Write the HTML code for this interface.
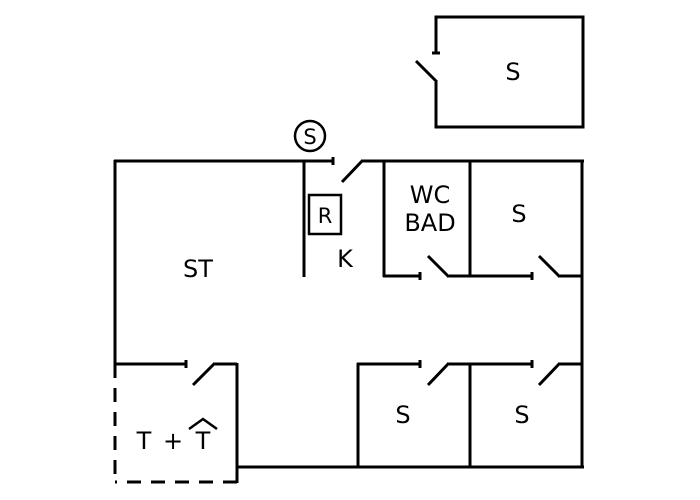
<!DOCTYPE html>
<html><head><style>body{margin:0;background:#fff}svg{display:block}text{font-family:"DejaVu Sans","Liberation Sans",sans-serif;fill:#000}</style></head><body>
<svg width="700" height="500" viewBox="0 0 700 500" xmlns="http://www.w3.org/2000/svg">
<g stroke="#000" stroke-width="3" fill="none" stroke-linecap="butt">
<polyline points="436,53 436,17 583,17 583,127 436,127 436,82"/>
<line x1="416" y1="61" x2="437" y2="82"/>
<line x1="432" y1="53" x2="440" y2="53"/>
<line x1="114" y1="161" x2="333" y2="161"/>
<line x1="333" y1="157" x2="333" y2="165"/>
<line x1="342" y1="182" x2="363" y2="160"/>
<line x1="363" y1="161" x2="584" y2="161"/>
<line x1="115" y1="160" x2="115" y2="364"/>
<line x1="582" y1="160" x2="582" y2="468"/>
<line x1="304" y1="161" x2="304" y2="277"/>
<line x1="384" y1="161" x2="384" y2="277"/>
<line x1="470" y1="161" x2="470" y2="277"/>
<line x1="383" y1="276" x2="420" y2="276"/>
<line x1="420" y1="272" x2="420" y2="280"/>
<line x1="428" y1="256" x2="449" y2="277"/>
<line x1="449" y1="276" x2="532" y2="276"/>
<line x1="532" y1="272" x2="532" y2="280"/>
<line x1="539" y1="256" x2="560" y2="277"/>
<line x1="560" y1="276" x2="582" y2="276"/>
<line x1="115" y1="364" x2="186" y2="364"/>
<line x1="186" y1="360" x2="186" y2="368"/>
<line x1="193" y1="385" x2="215" y2="363"/>
<line x1="215" y1="364" x2="237" y2="364"/>
<line x1="237" y1="363" x2="237" y2="483"/>
<line x1="237" y1="467" x2="584" y2="467"/>
<line x1="358" y1="363" x2="358" y2="467"/>
<line x1="470" y1="364" x2="470" y2="467"/>
<line x1="357" y1="364" x2="420" y2="364"/>
<line x1="420" y1="360" x2="420" y2="368"/>
<line x1="428" y1="385" x2="449" y2="363"/>
<line x1="449" y1="364" x2="532" y2="364"/>
<line x1="532" y1="360" x2="532" y2="368"/>
<line x1="539" y1="385" x2="560" y2="363"/>
<line x1="560" y1="364" x2="582" y2="364"/>
<line x1="115" y1="364" x2="115" y2="483" stroke-dasharray="14,10"/>
<line x1="237" y1="482" x2="115" y2="482" stroke-dasharray="14,10"/>
<rect x="309" y="195" width="32" height="39" stroke-width="2.5"/>
<circle cx="310" cy="136" r="15" stroke-width="2.5"/>
<polyline points="189,429 203,419 217,429" stroke-width="2.5"/>
</g>
<g font-size="24" text-anchor="middle">
<text x="513" y="80">S</text>
<text x="310" y="144" font-size="21">S</text>
<text x="325" y="223" font-size="21">R</text>
<text x="345" y="267">K</text>
<text x="198" y="277">ST</text>
<text x="430" y="203">WC</text>
<text x="430" y="231">BAD</text>
<text x="519" y="222">S</text>
<text x="403" y="423">S</text>
<text x="522" y="423">S</text>
<text x="144" y="449">T</text>
<text x="173" y="449">+</text>
<text x="203" y="449">T</text>
</g>
</svg>
</body></html>
